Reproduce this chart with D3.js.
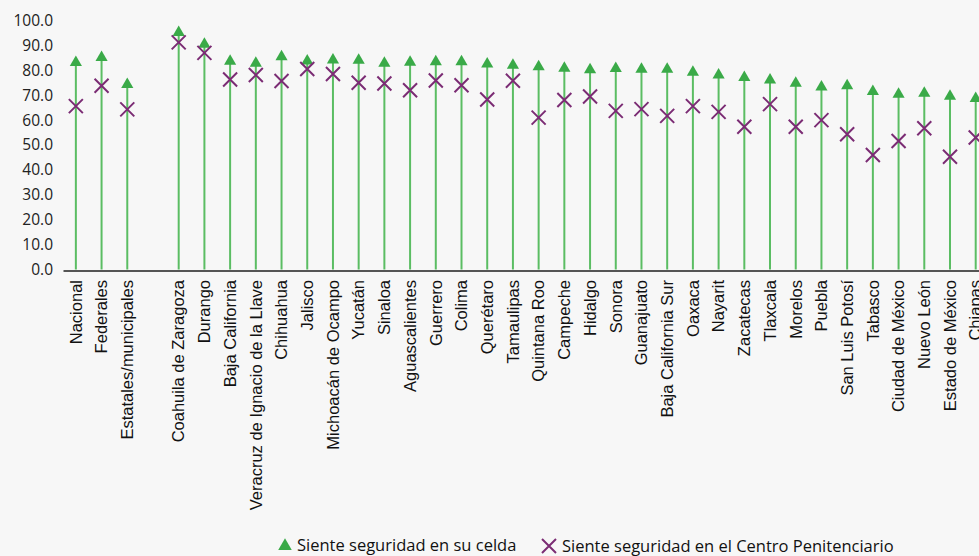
<!DOCTYPE html>
<html>
<head>
  <meta charset="UTF-8">
  <style>
    body { margin: 0; background: #f7f7f7; overflow: hidden; }
  </style>
</head>
<body>
<div id="chart_div"></div>

<script src="https://d3js.org/d3.v7.min.js"></script>
<script>

let width = 979, height = 556;

// categories (the empty one is the gap between the totals and the states)
const categories = ["Nacional", "Federales", "Estatales/municipales", "",
  "Coahuila de Zaragoza", "Durango", "Baja California", "Veracruz de Ignacio de la Llave",
  "Chihuahua", "Jalisco", "Michoacán de Ocampo", "Yucatán", "Sinaloa", "Aguascalientes",
  "Guerrero", "Colima", "Querétaro", "Tamaulipas", "Quintana Roo", "Campeche", "Hidalgo",
  "Sonora", "Guanajuato", "Baja California Sur", "Oaxaca", "Nayarit", "Zacatecas",
  "Tlaxcala", "Morelos", "Puebla", "San Luis Potosí", "Tabasco", "Ciudad de México",
  "Nuevo León", "Estado de México", "Chiapas"];

// Siente seguridad en su celda
const celda = [83.1, 85.1, 74.3, null,
  95.2, 90.5, 83.6, 82.8, 85.4, 83.7, 84.1, 84.0, 82.8, 83.2, 83.4, 83.4, 82.5, 82.0,
  81.4, 80.8, 80.2, 80.7, 80.4, 80.4, 79.2, 78.1, 77.1, 76.1, 74.8, 73.3, 73.8, 71.5,
  70.4, 70.8, 69.6, 68.7];

// Siente seguridad en el Centro Penitenciario
const centro = [65.6, 73.8, 64.3, null,
  91.2, 87.0, 76.3, 78.1, 75.7, 80.5, 78.5, 75.0, 74.7, 72.0, 75.9, 74.0, 68.3, 75.8,
  61.0, 68.1, 69.5, 63.7, 64.4, 61.7, 65.6, 63.3, 57.3, 66.4, 57.3, 60.0, 54.3, 46.0,
  51.6, 56.7, 45.3, 53.0];

const yTicks = [0, 10, 20, 30, 40, 50, 60, 70, 80, 90, 100];

const data = categories.map((c, i) => ({ key: i + "", name: c, celda: celda[i], centro: centro[i] }));

let svg = d3.select("#chart_div")
    .append("svg")
    .attr("width", width)
    .attr("height", height)

svg.append("rect")
    .attr("width", "100%")
    .attr("height", "100%")
    .attr("fill", "#f7f7f7")

let step = 25.71;
let x = d3.scaleBand()
    .domain(data.map(d => d.key))
    .range([63, 63 + step * data.length]);

let y = d3.scaleLinear()
    .domain([0, 100])
    .range([269.5, 20.5]);

// y axis: labels only
let yAxis = svg.append("g")
    .attr("transform", "translate(53,0)")
    .call(d3.axisLeft(y).tickValues(yTicks).tickFormat(d3.format(".1f")).tickSize(0));
yAxis.select(".domain").remove();
yAxis.selectAll("text")
    .attr("x", 0)
    .style("font-family", "'Open Sans', sans-serif")
    .style("font-size", "15.5px")
    .attr("fill", "#222");

let pts = data.filter(d => d.celda != null);

// stems
svg.append("g")
    .selectAll("line")
    .data(pts)
    .join("line")
    .attr("x1", d => x(d.key) + x.bandwidth() / 2)
    .attr("x2", d => x(d.key) + x.bandwidth() / 2)
    .attr("y1", y(0))
    .attr("y2", d => y(d.celda))
    .attr("stroke", "#5bbd63")
    .attr("stroke-width", 2)

// x axis line
let xAxis = svg.append("g")
    .attr("transform", "translate(0," + (y(0) + 1) + ")")
    .call(d3.axisBottom(x).tickSize(0).tickFormat(k => data[+k].name));
xAxis.select(".domain")
    .attr("stroke", "#555")
    .attr("stroke-width", 2.2);
xAxis.selectAll("text")
    .attr("transform", "rotate(-90)")
    .attr("x", -9.5)
    .attr("y", 0)
    .attr("dy", "0.35em")
    .attr("text-anchor", "end")
    .style("font-family", "'Liberation Sans', Arial, sans-serif")
    .style("font-size", "16.5px")
    .attr("fill", "#111");

// triangles
let tri = d3.symbol().type(d3.symbolTriangle).size(64);
svg.append("g")
    .selectAll("path")
    .data(pts)
    .join("path")
    .attr("d", tri)
    .attr("transform", d => "translate(" + (x(d.key) + x.bandwidth() / 2) + "," + y(d.celda) + ")")
    .attr("fill", "#3aaa48")

// crosses
let cr = 7;
svg.append("g")
    .selectAll("path")
    .data(pts)
    .join("path")
    .attr("d", d => {
      let cx = x(d.key) + x.bandwidth() / 2, cy = y(d.centro);
      return "M" + (cx - cr) + "," + (cy - cr) + "L" + (cx + cr) + "," + (cy + cr) +
             "M" + (cx - cr) + "," + (cy + cr) + "L" + (cx + cr) + "," + (cy - cr);
    })
    .attr("stroke", "#7b2c74")
    .attr("stroke-width", 2)
    .attr("fill", "none")

// legend
let legend = svg.append("g")
    .style("font-family", "'Open Sans', sans-serif")
    .style("font-size", "16.5px")
    .attr("fill", "#111");
legend.append("path")
    .attr("d", d3.symbol().type(d3.symbolTriangle).size(80))
    .attr("transform", "translate(285,546)")
    .attr("fill", "#3aaa48");
legend.append("text")
    .attr("x", 297)
    .attr("y", 551)
    .text("Siente seguridad en su celda");
legend.append("path")
    .attr("d", "M542,539L556,553M542,553L556,539")
    .attr("stroke", "#7b2c74")
    .attr("stroke-width", 2);
legend.append("text")
    .attr("x", 562)
    .attr("y", 552)
    .text("Siente seguridad en el Centro Penitenciario");

</script>

</body>
</html>
